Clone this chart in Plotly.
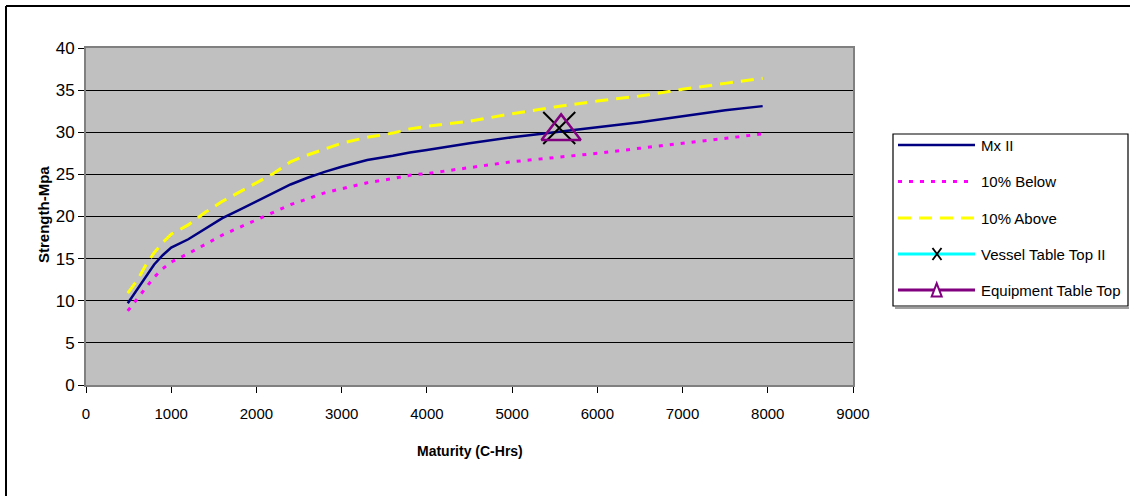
import plotly.graph_objects as go

# Strength development vs. maturity
maturity = [490, 600, 700, 800, 900, 1000, 1200, 1400, 1600, 1800, 2000, 2200,
            2400, 2600, 2800, 3000, 3300, 3600, 3800, 4000, 4500, 5000, 5500,
            6000, 6500, 7000, 7500, 7940]
mx_ii = [9.7, 11.3, 12.9, 14.3, 15.4, 16.3, 17.3, 18.6, 19.8, 20.8, 21.8, 22.8,
         23.8, 24.6, 25.3, 25.9, 26.7, 27.2, 27.6, 27.9, 28.7, 29.4, 30.0,
         30.6, 31.2, 31.9, 32.6, 33.1]
below_10 = [8.8, 10.2, 11.6, 12.8, 13.8, 14.6, 15.6, 16.7, 17.8, 18.7, 19.6, 20.5,
            21.4, 22.1, 22.8, 23.3, 24.0, 24.5, 24.9, 25.1, 25.8, 26.5, 27.0,
            27.5, 28.1, 28.7, 29.3, 29.8]
above_10 = [10.9, 12.4, 14.2, 15.7, 16.9, 17.9, 19.0, 20.5, 21.8, 22.9, 24.0, 25.1,
            26.5, 27.3, 28.0, 28.7, 29.4, 29.9, 30.4, 30.7, 31.3, 32.2, 33.0,
            33.7, 34.3, 35.1, 35.8, 36.4]

vessel_x = [5553]
vessel_y = [30.5]
equip_x = [5575]
equip_y = [30.1]

series_names = ["Mx II", "10% Below", "10% Above", "Vessel Table Top II", "Equipment Table Top"]
x_ticks = [0, 1000, 2000, 3000, 4000, 5000, 6000, 7000, 8000, 9000]
y_ticks = [0, 5, 10, 15, 20, 25, 30, 35, 40]

W, H = 1130, 496
PL, PR, PT, PB = 86, 853, 48, 385   # plot-area edges in pixels
FONT = "Arial, Liberation Sans, sans-serif"
NAVY, MAGENTA, YELLOW, CYAN, PURPLE = "#000080", "#FF00FF", "#FFFF00", "#00FFFF", "#800080"


def px(x):
    # pixel column -> paper x (paper spans the plot area)
    return (x - PL) / (PR - PL)


def py(y):
    # pixel row -> paper y
    return (PB - y) / (PB - PT)


fig = go.Figure()
fig.add_trace(go.Scatter(x=maturity, y=below_10, mode="lines", name=series_names[1],
                         line=dict(color=MAGENTA, width=3, dash="4px,7px"), showlegend=False))
fig.add_trace(go.Scatter(x=maturity, y=above_10, mode="lines", name=series_names[2],
                         line=dict(color=YELLOW, width=3, dash="13px,8px"), showlegend=False))
fig.add_trace(go.Scatter(x=maturity, y=mx_ii, mode="lines", name=series_names[0],
                         line=dict(color=NAVY, width=2.5), showlegend=False))
fig.add_trace(go.Scatter(x=vessel_x, y=vessel_y, mode="markers", name=series_names[3],
                         marker=dict(symbol="x-thin-open", size=32, color="black",
                                     line=dict(color="black", width=2)),
                         showlegend=False))
fig.add_trace(go.Scatter(x=equip_x, y=equip_y, mode="markers", name=series_names[4],
                         marker=dict(symbol="triangle-up-open", size=34, color=PURPLE,
                                     line=dict(color=PURPLE, width=2.5)),
                         showlegend=False))

shapes = []
# outer frame (top and left edges)
shapes.append(dict(type="line", xref="paper", yref="paper", x0=px(6), x1=px(W), y0=py(6), y1=py(6),
                   line=dict(color="black", width=2)))
shapes.append(dict(type="line", xref="paper", yref="paper", x0=px(6), x1=px(6), y0=py(6), y1=py(H),
                   line=dict(color="black", width=2)))

# legend box
shapes.append(dict(type="line", xref="paper", yref="paper", x0=px(895), x1=px(1129), y0=py(308), y1=py(308),
                   line=dict(color="#A0A0A0", width=2)))
shapes.append(dict(type="rect", xref="paper", yref="paper", x0=px(893), x1=px(1128), y0=py(306), y1=py(134),
                   line=dict(color="black", width=1.2), fillcolor="white"))

rows = [145, 181.5, 218, 254, 290]
lx0, lx1 = 898, 975
legend_lines = [
    dict(color=NAVY, width=2.5),
    dict(color=MAGENTA, width=3, dash="4px,7px"),
    dict(color=YELLOW, width=3, dash="13px,8px"),
    dict(color=CYAN, width=3),
    dict(color=PURPLE, width=3),
]
for ry, ln in zip(rows, legend_lines):
    shapes.append(dict(type="line", xref="paper", yref="paper", x0=px(lx0), x1=px(lx1),
                       y0=py(ry), y1=py(ry), line=ln))

# legend symbols
cx, cy = 937, rows[3]
shapes.append(dict(type="line", xref="paper", yref="paper", x0=px(cx - 4.5), x1=px(cx + 4.5),
                   y0=py(cy - 6), y1=py(cy + 6), line=dict(color="black", width=1.8)))
shapes.append(dict(type="line", xref="paper", yref="paper", x0=px(cx - 4.5), x1=px(cx + 4.5),
                   y0=py(cy + 6), y1=py(cy - 6), line=dict(color="black", width=1.8)))
ty = rows[4]
tri = "M {a},{b} L {c},{b} L {d},{e} Z".format(a=px(931.7), b=py(ty + 6.5), c=px(941.7),
                                                 d=px(936.7), e=py(ty - 6.7))
shapes.append(dict(type="path", xref="paper", yref="paper", path=tri,
                   line=dict(color=PURPLE, width=2), fillcolor="white"))

annotations = []
for ry, name in zip(rows, series_names):
    annotations.append(dict(xref="paper", yref="paper", x=px(979), y=py(ry), text=name,
                            showarrow=False, xanchor="left", yanchor="middle",
                            font=dict(family=FONT, size=15, color="black")))

annotations.append(dict(xref="paper", yref="paper", x=px(43), y=py(215), text="<b>Strength-Mpa</b>",
                        showarrow=False, textangle=-90, xanchor="center", yanchor="middle",
                        font=dict(family=FONT, size=15, color="black")))
annotations.append(dict(xref="paper", yref="paper", x=px(470), y=py(451), text="<b>Maturity (C-Hrs)</b>",
                        showarrow=False, xanchor="center", yanchor="middle",
                        font=dict(family=FONT, size=14, color="black")))

fig.update_layout(
    width=W, height=H, autosize=False,
    margin=dict(l=PL, r=W - PR, t=PT, b=H - PB, pad=0),
    paper_bgcolor="white", plot_bgcolor="#C0C0C0",
    showlegend=False,
    shapes=shapes, annotations=annotations,
    xaxis=dict(range=[0, 9000], tickvals=x_ticks, ticktext=[str(v) for v in x_ticks],
               showgrid=False, zeroline=False, showline=True, mirror=True,
               linecolor="#808080", linewidth=2, ticks="outside", ticklen=6,
               tickcolor="black", tickwidth=1, ticklabelstandoff=8,
               tickfont=dict(family=FONT, size=15, color="black")),
    yaxis=dict(range=[0, 40], tickvals=y_ticks, ticktext=[str(v) for v in y_ticks],
               showgrid=True, gridcolor="black", gridwidth=1, zeroline=False,
               showline=True, mirror=True, linecolor="#808080", linewidth=2,
               ticks="outside", ticklen=6, tickcolor="black", tickwidth=1,
               tickfont=dict(family=FONT, size=17, color="black")),
)

fig.write_html("out.html")
